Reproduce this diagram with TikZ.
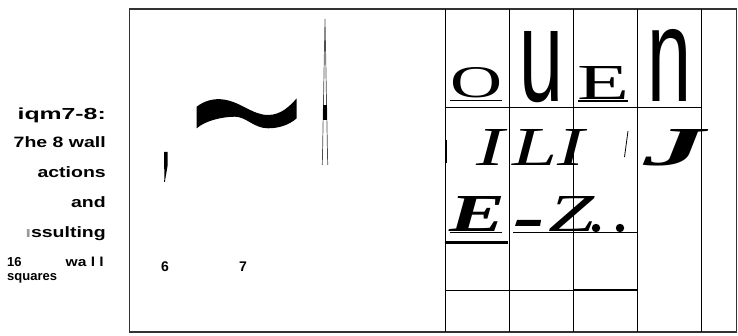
\documentclass[tikz,border=0pt]{standalone}
\usepackage{fontspec}
\setmainfont{Liberation Serif}
\setsansfont{Liberation Sans}

\begin{document}
\begin{tikzpicture}[x=1pt, y=-1pt,
  caption/.style={anchor=base east, inner sep=0pt,
    font=\sffamily\bfseries\fontsize{15}{15}\selectfont},
  smallcap/.style={caption, font=\sffamily\bfseries\fontsize{13}{13}\selectfont},
  glyph/.style={anchor=base west, inner sep=0pt},
  gridline/.style={line width=0.9pt}]
  \useasboundingbox (0,0) rectangle (738,336);

  % caption on the left
  \node[caption, font=\sffamily\bfseries\fontsize{16}{16}\selectfont] (title) at (106,120) {\scalebox{1.55}[1]{iqm7-8:}};
  \node[caption] (capa) at (106,148) {\scalebox{1.3}[1]{7he 8 wall}};
  \node[caption] (capb) at (106,178) {\scalebox{1.3}[1]{actions}};
  \node[caption] (capc) at (106,208) {\scalebox{1.3}[1]{and}};
  \node[caption] (capd) at (106,238) {\scalebox{1.3}[1]{\textcolor{black!40}{ı}ssulting}};
  \node[smallcap, anchor=base west] (cape) at (7,267) {16};
  \node[smallcap] (capf) at (104,267) {\scalebox{1.2}[1]{wa l l}};
  \node[smallcap, anchor=base west] (capg) at (7,280) {squares};

  % frame and grid
  \draw[line width=1.2pt, black!80] (129.3,9) rectangle (736.7,332);
  \foreach \x in {445,509,573,637,701}
    \draw[gridline] (\x,9) -- (\x,332);
  \draw[gridline] (445,107) -- (701,107);

  % left panel
  \fill (196.7,106.7) .. controls (204,101) and (213,98.5) .. (221.7,99.3)
    .. controls (240,101) and (252,115) .. (268,115)
    .. controls (281,115) and (290,106) .. (296.7,98.3)
    -- (296.7,118.3) .. controls (289,125) and (279,128.3) .. (268,128.3)
    .. controls (254,128.3) and (246,116.7) .. (235,116.7)
    .. controls (224,116.7) and (206,120) .. (196.7,128.3) -- cycle;
  \draw[line width=0.7pt, black!70] (322.3,165) -- (325,19) -- (327.7,165);
  \fill (323.3,105) rectangle (327.3,120);
  \fill (164,152) -- (167.5,152) -- (167.5,166) -- (166,175) -- (164.8,182)
    -- (164.2,182) -- (164.5,172) -- (164,166) -- cycle;
  \node[smallcap, anchor=base west, font=\sffamily\bfseries\fontsize{14}{14}\selectfont] (six) at (161,272) {6};
  \node[smallcap, anchor=base west, font=\sffamily\bfseries\fontsize{14}{14}\selectfont] (seven) at (239,272) {7};

  % top row
  \node[glyph] (topo) at (450,98) {\resizebox{52pt}{30pt}{O}};
  \draw[line width=1.2pt] (450,100.5) -- (502,100.5);
  \node[glyph] (topu) at (519,102) {\resizebox{44pt}{70pt}{\sffamily u}};
  \node[glyph] (tope) at (577,100) {\resizebox{52pt}{33pt}{E}};
  \draw[line width=1.2pt] (578,101) -- (628,101);
  \node[glyph] (topn) at (647,102) {\resizebox{44pt}{72pt}{\sffamily n}};

  % middle row
  \draw[line width=0.6pt] (446.5,140) -- (446.5,163);
  \node[glyph] (midi) at (476,166) {\resizebox{28pt}{36pt}{\itshape I}};
  \node[glyph] (midli) at (512,166) {\resizebox{72pt}{36pt}{\itshape LI}};
  \draw[line width=0.8pt] (628,131) -- (624.5,157);
  \node[glyph] (midj) at (643,166) {\resizebox{62pt}{36pt}{\bfseries\itshape J}};

  % bottom row
  \node[glyph] (lowe) at (449,232) {\resizebox{56pt}{35pt}{\bfseries\itshape E}};
  \fill (517,220) -- (541,220) -- (540,226) -- (515,226) -- cycle;
  \node[glyph] (lowz) at (548,232) {\resizebox{46pt}{35pt}{\itshape Z}};
  \fill (596,228) circle (4.2);
  \fill (620,228) circle (4.2);
  \draw[line width=1pt] (450,232.5) -- (502,232.5);
  \draw[line width=1pt] (513,232.5) -- (637,232.5);
  \draw[line width=2.2pt] (445,242.5) -- (508,242.5);
  \draw[gridline] (445,290) -- (573,290);
  \draw[line width=2pt] (573,290) -- (637,290);
\end{tikzpicture}
\end{document}
